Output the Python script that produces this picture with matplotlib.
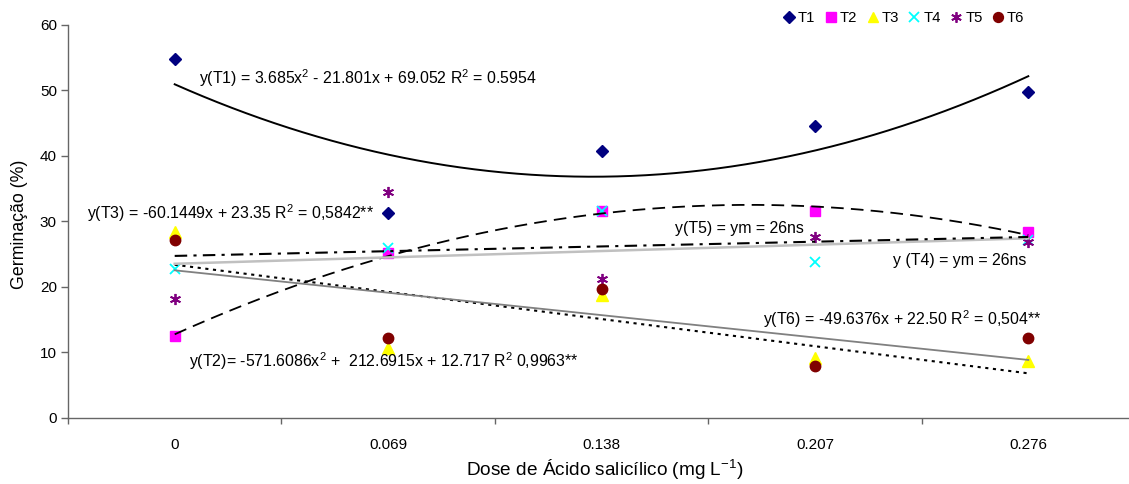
import numpy as np
import matplotlib
matplotlib.use("Agg")
import matplotlib.pyplot as plt
from matplotlib.lines import Line2D

plt.rcParams['font.family'] = ['Liberation Sans', 'DejaVu Sans']
plt.rcParams['mathtext.fontset'] = 'custom'
plt.rcParams['mathtext.rm'] = 'Liberation Sans'
plt.rcParams['mathtext.it'] = 'Liberation Sans:italic'
plt.rcParams['mathtext.bf'] = 'Liberation Sans:bold'

# ---------------- data ----------------
dose_labels = ["0", "0.069", "0.138", "0.207", "0.276"]
dose_values = [0.0, 0.069, 0.138, 0.207, 0.276]
series_names = ["T1", "T2", "T3", "T4", "T5", "T6"]

t1 = [54.8, 31.3, 40.8, 44.6, 49.8]
t2 = [12.5, 25.1, 31.6, 31.6, 28.4]
t3 = [28.4, 10.6, 18.7, 9.1, 8.6]
t4 = [22.7, 25.9, 31.6, 23.8, 27.1]
t5 = [18.1, 34.5, 21.1, 27.6, 26.9]
t6 = [27.1, 12.1, 19.6, 7.9, 12.1]

# trend-line coefficients (highest power first)
t1_fit = [3.685, -21.801, 69.052]          # x = treatment index 1..5
t2_fit = [-571.6086, 212.6915, 12.717]     # x = dose
t3_fit = [-60.1449, 23.35]                 # x = dose
t4_fit = [14.1, 23.5]                      # x = dose
t5_fit = [10.5, 24.7]                      # x = dose
t6_fit = [-49.6376, 22.50]                 # x = dose

eq_t1 = "y(T1) = 3.685x$^2$ - 21.801x + 69.052 R$^2$ = 0.5954"
eq_t3 = "y(T3) = -60.1449x + 23.35 R$^2$ = 0,5842**"
eq_t2 = "y(T2)= -571.6086x$^2$ +  212.6915x + 12.717 R$^2$ 0,9963**"
eq_t5 = "y(T5) = ym = 26ns"
eq_t4 = "y (T4) = ym = 26ns"
eq_t6 = "y(T6) = -49.6376x + 22.50 R$^2$ = 0,504**"

# ---------------- figure ----------------
W, H = 1129, 484
fig = plt.figure(figsize=(W / 100, H / 100), dpi=100)

def fx(px):
    return px / W

def fy(py):
    return 1 - py / H

ax_left, ax_right, ax_top, ax_bot = 68, 1135, 25, 417.5
ax = fig.add_axes([fx(ax_left), fy(ax_bot), (ax_right - ax_left) / W, (ax_bot - ax_top) / H])

pos = np.arange(len(dose_labels))
step = dose_values[1] - dose_values[0]

# markers
styles = [
    dict(marker='D', color='#000080', ms=6),
    dict(marker='s', color='#FF00FF', ms=7),
    dict(marker='^', color='#FFFF00', ms=8),
    dict(marker='x', color='#00FFFF', ms=7, mew=1.3),
    dict(marker=(6, 2, 0), color='#800080', ms=8, mew=1.3),
    dict(marker='o', color='#800000', ms=7.5),
]
data = [t1, t2, t3, t4, t5, t6]
handles = []
for name, vals, st in zip(series_names, data, styles):
    ax.plot(pos, vals, linestyle='none', marker=st['marker'], color=st['color'],
            markersize=st['ms'], markeredgewidth=st.get('mew', 1.0), zorder=2)
    handles.append(Line2D([], [], linestyle='none', marker=st['marker'], color=st['color'],
                          markersize=st['ms'] * 0.95, markeredgewidth=st.get('mew', 1.0), label=name))

# trend lines
xx = np.linspace(0, len(pos) - 1, 300)
dose_xx = xx * step
ax.plot(xx, np.polyval(t1_fit, xx + 1), color='black', lw=1.4, zorder=3)
ax.plot(xx, np.polyval(t2_fit, dose_xx), color='black', lw=1.3, linestyle=(0, (7, 4)), zorder=3)
ax.plot(xx, np.polyval(t3_fit, dose_xx), color='black', lw=1.5, linestyle=(0, (1.5, 2.2)), zorder=3)
ax.plot(xx, np.polyval(t4_fit, dose_xx), color='#C0C0C0', lw=1.8, zorder=3)
ax.plot(xx, np.polyval(t5_fit, dose_xx), color='black', lw=1.5, linestyle=(0, (6, 3, 1.5, 3)), zorder=3)
ax.plot(xx, np.polyval(t6_fit, dose_xx), color='#808080', lw=1.3, zorder=3)

# axes styling
ax.set_xlim(-0.5, len(pos) - 0.5)
ax.set_ylim(0, 60)
ax.set_yticks(np.arange(0, 61, 10))
ax.set_xticks(np.arange(-0.5, len(pos), 1.0))
ax.set_xticklabels([])
ax.set_xticks(pos, minor=True)
ax.set_xticklabels(dose_labels, minor=True)
ax.tick_params(axis='x', which='major', direction='out', length=4, width=1, color='#666666')
ax.tick_params(axis='x', which='minor', length=0, pad=15, labelsize=11)
ax.tick_params(axis='y', direction='out', length=5, width=1, color='#666666', pad=3, labelsize=11)
for s in ['top', 'right']:
    ax.spines[s].set_visible(False)
for s in ['left', 'bottom']:
    ax.spines[s].set_color('#666666')
    ax.spines[s].set_linewidth(1.0)

fig.text(fx(605), fy(470), "Dose de Ácido salicílico (mg L$^{-1}$)", ha='center', va='center', fontsize=13.7)
fig.text(fx(20), fy(224), "Germinação (%)", ha='center', va='center', rotation=90, fontsize=12.8)

# equations
tsize = 11.4
fig.text(fx(199), fy(84), eq_t1, ha='left', va='baseline', fontsize=tsize)
fig.text(fx(87), fy(218.5), eq_t3, ha='left', va='baseline', fontsize=tsize)
fig.text(fx(189), fy(366.5), eq_t2, ha='left', va='baseline', fontsize=tsize)
fig.text(fx(675), fy(233), eq_t5, ha='left', va='baseline', fontsize=tsize)
fig.text(fx(893), fy(265.5), eq_t4, ha='left', va='baseline', fontsize=tsize)
fig.text(fx(763), fy(325), eq_t6, ha='left', va='baseline', fontsize=tsize)

fig.legend(handles=handles, loc='center', bbox_to_anchor=(fx(904), fy(18)), ncol=6,
           frameon=False, fontsize=10.7, handlelength=0.7, handletextpad=0.25,
           columnspacing=0.7, borderpad=0)

fig.savefig("out.png", dpi=100)
